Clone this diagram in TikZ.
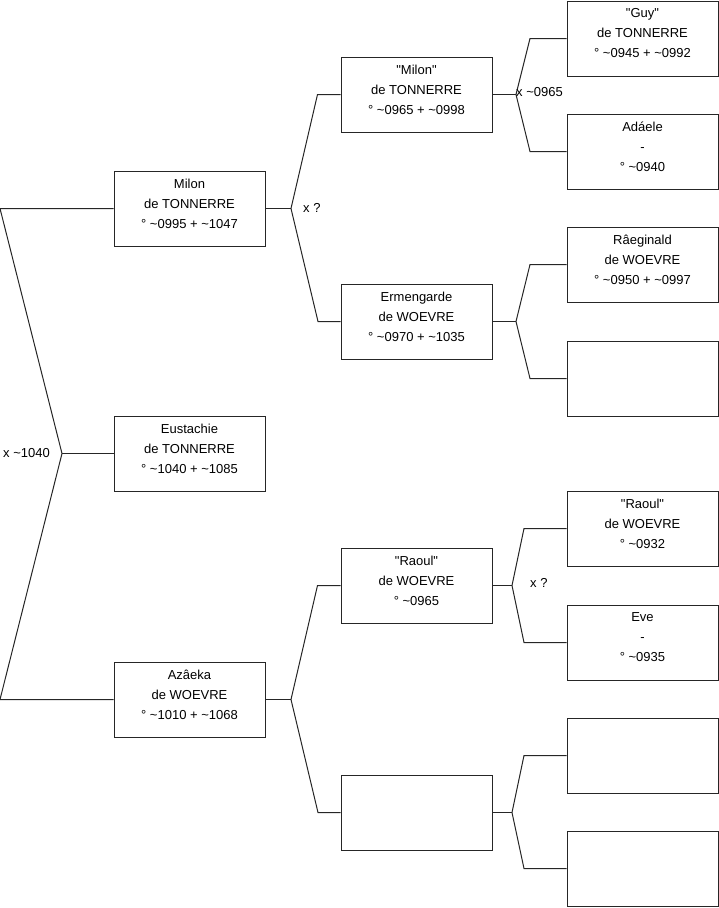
\documentclass[tikz,border=0pt]{standalone}
\usepackage{fontspec}
\setmainfont{Liberation Sans}[Ligatures=TeXOff]
\newcommand{\tl}{\textasciitilde}
\begin{document}
\begin{tikzpicture}[x=1pt,y=-1pt,
  pbox/.style={draw=black!85,line width=1pt,minimum width=151pt,minimum height=75pt,inner sep=0pt},
  ptext/.style={align=center,font=\fontsize{13}{20}\selectfont,inner sep=0pt,yshift=5pt},
  conn/.style={draw=black!85,line width=1pt},
  mlab/.style={font=\fontsize{13}{14}\selectfont,inner sep=0pt,anchor=west}]
\useasboundingbox (0,0) rectangle (719,908);
% level 1
\node[pbox,label={[ptext]center:Milon\\de TONNERRE\\° \tl0995 + \tl1047}] (milon) at (189.5,208.5) {};
\node[pbox,label={[ptext]center:Eustachie\\de TONNERRE\\° \tl1040 + \tl1085}] (eust) at (189.5,453.5) {};
\node[pbox,label={[ptext]center:Azâeka\\de WOEVRE\\° \tl1010 + \tl1068}] (aza) at (189.5,699.5) {};
% level 2
\node[pbox,label={[ptext]center:"Milon"\\de TONNERRE\\° \tl0965 + \tl0998}] (milon2) at (416.5,94.5) {};
\node[pbox,label={[ptext]center:Ermengarde\\de WOEVRE\\° \tl0970 + \tl1035}] (erm) at (416.5,321.5) {};
\node[pbox,label={[ptext]center:"Raoul"\\de WOEVRE\\° \tl0965}] (raoul2) at (416.5,585.5) {};
\node[pbox] (e2) at (416.5,812.5) {};
% level 3
\node[pbox,label={[ptext]center:"Guy"\\de TONNERRE\\° \tl0945 + \tl0992}] (guy) at (642.5,38.5) {};
\node[pbox,label={[ptext]center:Adáele\\-\\° \tl0940}] (ada) at (642.5,151.5) {};
\node[pbox,label={[ptext]center:Râeginald\\de WOEVRE\\° \tl0950 + \tl0997}] (rae) at (642.5,264.5) {};
\node[pbox] (e3a) at (642.5,378.5) {};
\node[pbox,label={[ptext]center:"Raoul"\\de WOEVRE\\° \tl0932}] (raoul3) at (642.5,528.5) {};
\node[pbox,label={[ptext]center:Eve\\-\\° \tl0935}] (eve) at (642.5,642.5) {};
\node[pbox] (e3b) at (642.5,755.5) {};
\node[pbox] (e3c) at (642.5,868.5) {};
% junctions
\coordinate (jr) at (62,453.5);
\coordinate (j1) at (291,208.5);
\coordinate (j2) at (291,699.5);
\coordinate (j3) at (516,94.5);
\coordinate (j4) at (516,321.5);
\coordinate (j5) at (512,585.5);
\coordinate (j6) at (512,812.5);
% connectors
\draw[conn] (milon.west) -- (0,208.5) -- (jr) -- (0,699.5) -- (aza.west);
\draw[conn] (jr) -- (eust.west);
\draw[conn] (milon.east) -- (j1);
\draw[conn] (milon2.west) -- ++(-23,0) -- (j1) -- (318,321.5) -- (erm.west);
\draw[conn] (aza.east) -- (j2);
\draw[conn] (raoul2.west) -- ++(-23,0) -- (j2) -- (318,812.5) -- (e2.west);
\draw[conn] (milon2.east) -- (j3);
\draw[conn] (guy.west) -- (530,38.5) -- (j3) -- (530,151.5) -- (ada.west);
\draw[conn] (erm.east) -- (j4);
\draw[conn] (rae.west) -- (530,264.5) -- (j4) -- (530,378.5) -- (e3a.west);
\draw[conn] (raoul2.east) -- (j5);
\draw[conn] (raoul3.west) -- (524,528.5) -- (j5) -- (524,642.5) -- (eve.west);
\draw[conn] (e2.east) -- (j6);
\draw[conn] (e3b.west) -- (524,755.5) -- (j6) -- (524,868.5) -- (e3c.west);
% marriage labels
\node[mlab] (m1) at (3,453) {x \tl1040};
\node[mlab] (m2) at (303,208) {x ?};
\node[mlab] (m3) at (516,92) {x \tl0965};
\node[mlab] (m4) at (530,583) {x ?};
\end{tikzpicture}
\end{document}
